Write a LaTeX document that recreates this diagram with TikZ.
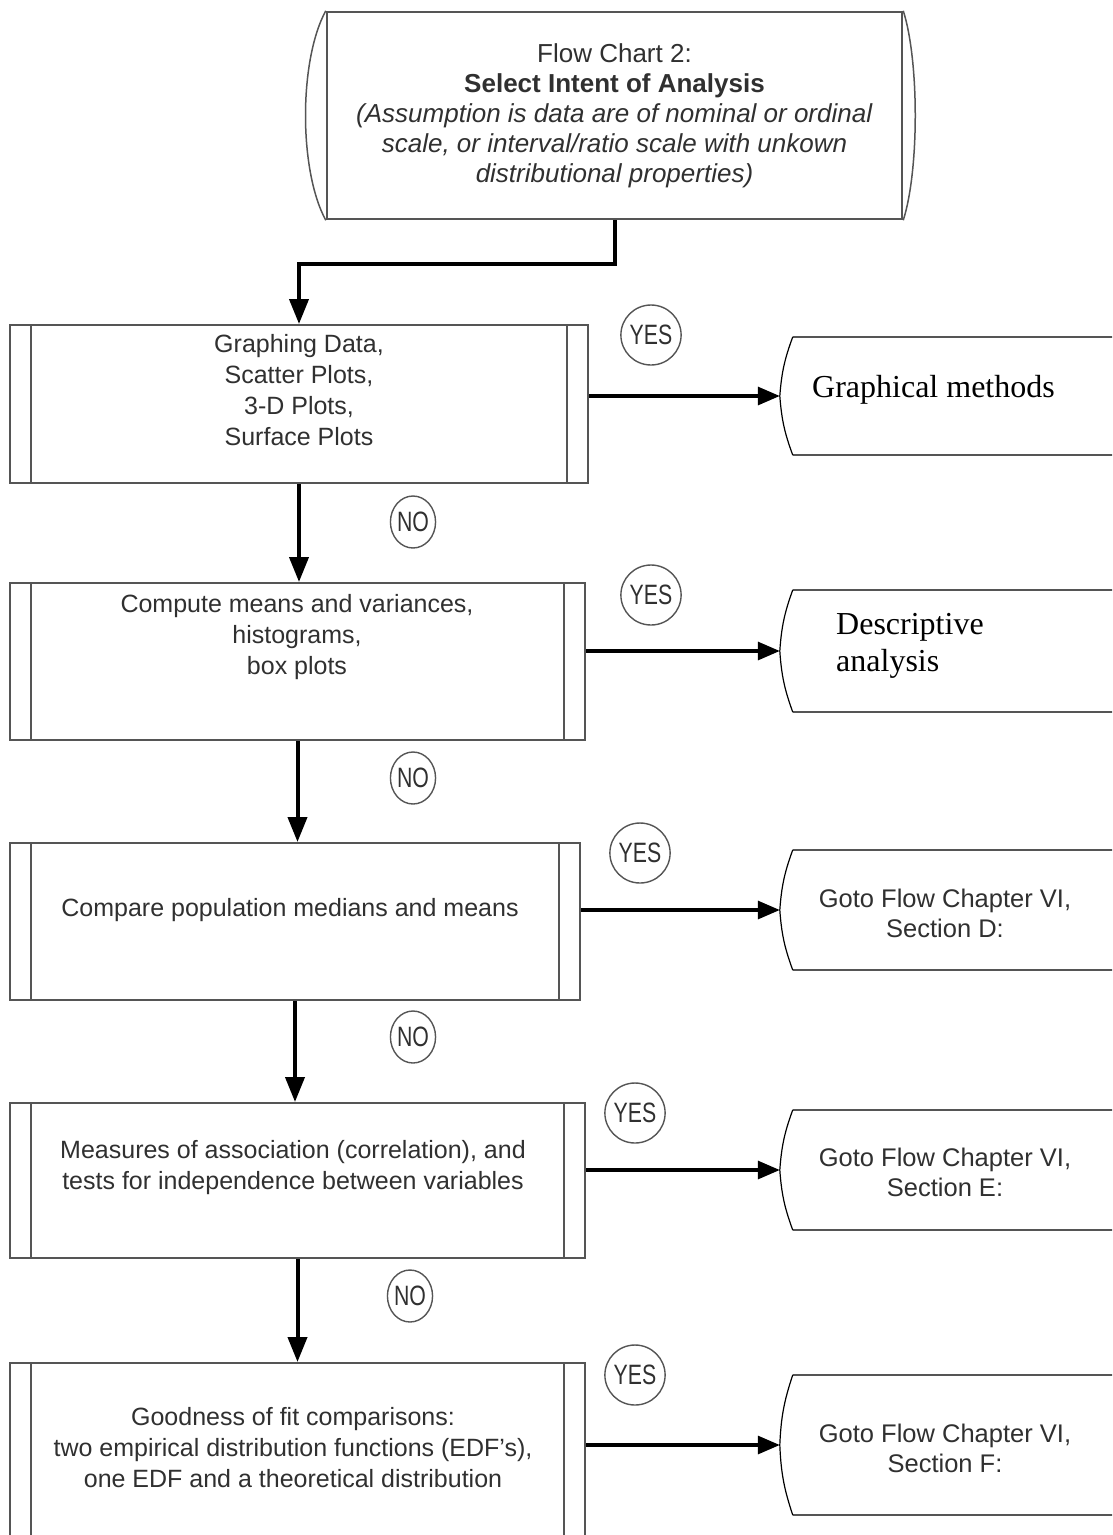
\documentclass[tikz,border=0pt]{standalone}
\usepackage{fontspec}
\setmainfont{Liberation Sans}
\newfontfamily\seriffont{Liberation Serif}
\newfontfamily\narrowfont[FakeStretch=0.76]{Liberation Sans}
\usetikzlibrary{arrows.meta,calc,shapes.geometric}
\definecolor{edgegray}{HTML}{555555}
\definecolor{txtgray}{HTML}{303030}
\tikzset{
  procbox/.style={draw=edgegray, line width=2pt, rectangle, inner sep=0pt,
    path picture={
      \draw[edgegray, line width=2pt]
        ([xshift=21pt]path picture bounding box.north west) -- ([xshift=21pt]path picture bounding box.south west)
        ([xshift=-21pt]path picture bounding box.north east) -- ([xshift=-21pt]path picture bounding box.south east);
    }},
  boxtext/.style={align=center, text=txtgray, inner sep=0pt, font=\fontsize{25}{31}\selectfont},
  outshape/.style={rectangle, inner sep=0pt, minimum width=360pt},
  decision/.style={ellipse, draw=edgegray, line width=1.4pt, inner sep=0pt, text=txtgray,
    font=\narrowfont\fontsize{28}{30}\selectfont},
  yesc/.style={decision, minimum width=50pt, minimum height=60pt},
  noc/.style={decision, minimum width=44pt, minimum height=52pt},
  conn/.style={black, line width=4pt, -{Triangle[length=25pt,width=19pt]}},
  hconn/.style={black, line width=3.2pt, -{Triangle[length=22pt,width=18pt]}},
  outedge/.style={edgegray, line width=2.5pt},
  notch/.style={black, line width=1.2pt},
}
\begin{document}
\begin{tikzpicture}[x=1pt,y=-1pt]
\useasboundingbox (0,0) rectangle (1112,1535);
\fill[white] (0,0) rectangle (1112,1535);
\clip (0,0) rectangle (1112,1535);

% top terminal
\node[draw=edgegray, line width=2.5pt, rectangle, minimum width=575pt, minimum height=207pt,
      inner sep=0pt, align=center, text=txtgray, font=\fontsize{26}{30}\selectfont] (top) at (614.5,115.5)
  {Flow Chart 2:\\ \textbf{Select Intent of Analysis}\\ \textit{(Assumption is data are of nominal or ordinal}\\
   \textit{scale, or interval/ratio scale with unkown}\\ \textit{distributional properties)}};
\draw[edgegray, line width=1.5pt] (top.north west) .. controls ($(top.north west)+(-27,50)$) and ($(top.south west)+(-27,-50)$) .. (top.south west);
\draw[edgegray, line width=1.5pt] (top.north east) .. controls ($(top.north east)+(16,50)$) and ($(top.south east)+(16,-50)$) .. (top.south east);

% process boxes
\node[procbox, minimum width=578pt, minimum height=158pt] (b1) at (299,404) {};
\node[procbox, minimum width=575pt, minimum height=157pt] (b2) at (297.5,661.5) {};
\node[procbox, minimum width=570pt, minimum height=157pt] (b3) at (295,921.5) {};
\node[procbox, minimum width=575pt, minimum height=155pt] (b4) at (297.5,1180.5) {};
\node[procbox, minimum width=575pt, minimum height=200pt] (b5) at (297.5,1463) {};

\node[boxtext] (t1) at (299,390) {Graphing Data,\\Scatter Plots,\\3-D Plots,\\Surface Plots};
\node[boxtext] (t2) at (297,637) {Compute means and variances,\\histograms,\\box plots};
\node[boxtext] (t3) at (290,910) {Compare population medians and means};
\node[boxtext] (t4) at (293,1168) {Measures of association (correlation), and\\tests for independence between variables};
\node[boxtext] (t5) at (293,1448) {Goodness of fit comparisons:\\two empirical distribution functions (EDF's),\\one EDF and a theoretical distribution};

% output shapes
\node[outshape, minimum height=118pt] (g1) at (960,396) {};
\node[outshape, minimum height=122pt] (g2) at (960,651) {};
\node[outshape, minimum height=120pt] (g3) at (960,910) {};
\node[outshape, minimum height=120pt] (g4) at (960,1170) {};
\node[outshape, minimum height=140pt] (g5) at (960,1445) {};
\foreach \g in {g1,g2,g3,g4,g5}{
  \draw[outedge] ([xshift=13pt]\g.north west) -- (\g.north east);
  \draw[outedge] ([xshift=13pt]\g.south west) -- (\g.south east);
  \draw[notch] ([xshift=13pt]\g.north west) to[bend right=8] (\g.west) to[bend right=8] ([xshift=13pt]\g.south west);
}
\node[anchor=west, inner sep=0pt, font=\seriffont\fontsize{32}{37}\selectfont] (g1t) at (812,390) {Graphical methods};
\node[anchor=west, inner sep=0pt, align=left, font=\seriffont\fontsize{32}{37}\selectfont] (g2t) at (836,646) {Descriptive\\analysis};
\node[boxtext, font=\fontsize{25.5}{30}\selectfont] (g3t) at (945,913) {Goto Flow Chapter VI,\\Section D:};
\node[boxtext, font=\fontsize{25.5}{30}\selectfont] (g4t) at (945,1172) {Goto Flow Chapter VI,\\Section E:};
\node[boxtext, font=\fontsize{25.5}{30}\selectfont] (g5t) at (945,1448) {Goto Flow Chapter VI,\\Section F:};

% decision labels
\node[yesc] (y1) at (651,335) {YES};
\node[yesc] (y2) at (651,595) {YES};
\node[yesc] (y3) at (640,853) {YES};
\node[yesc] (y4) at (635,1113) {YES};
\node[yesc] (y5) at (635,1375) {YES};
\node[noc] (n1) at (413,522) {NO};
\node[noc] (n2) at (413,778) {NO};
\node[noc] (n3) at (413,1037) {NO};
\node[noc] (n4) at (410,1296) {NO};

% connectors
\draw[conn] (top.south) -- ++(0,44) -| (b1.north);
\draw[conn] (b1.south) -- (b1.south |- b2.north);
\draw[conn] (b2.south) -- (b2.south |- b3.north);
\draw[conn] (b3.south) -- (b3.south |- b4.north);
\draw[conn] (b4.south) -- (b4.south |- b5.north);
\draw[hconn] (g1.west -| b1.east) -- (g1.west);
\draw[hconn] (g2.west -| b2.east) -- (g2.west);
\draw[hconn] (g3.west -| b3.east) -- (g3.west);
\draw[hconn] (g4.west -| b4.east) -- (g4.west);
\draw[hconn] (g5.west -| b5.east) -- (g5.west);
\end{tikzpicture}
\end{document}
